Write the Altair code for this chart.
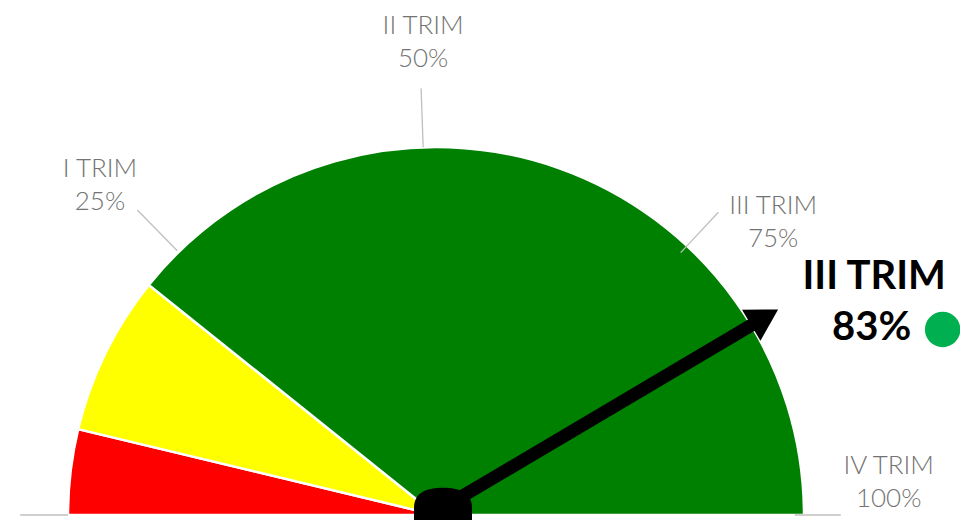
import altair as alt
import numpy as np
import pandas as pd

# ---------------- data ----------------
segment_names = ["Rosso", "Giallo", "Verde"]
segment_values = [7.5, 14.0, 78.5]
segment_colors = ["#FF0000", "#FFFF00", "#008000"]

tick_pcts = [0, 25, 50, 75, 100]
label_titles = ["I TRIM", "II TRIM", "III TRIM", "IV TRIM"]
label_pcts = [25, 50, 75, 100]

needle_label = "III TRIM"
needle_value = 83
status_color = "#00B050"

# ---------------- layout ----------------
W, H = 952, 512
R_PX = 368.0            # gauge radius in pixels
CX, CY = 428.0, 507.0   # gauge centre in chart pixels
LABEL_R = 1.27
LINE_H = 33
# per-label nudges (unit radii) applied to the radial label position
label_nudge = [(-0.015, 0.0), (-0.035, 0.017), (0.018, -0.100), (-0.040, 0.092)]
# leader line angle nudges (degrees)
leader_nudge = [0.0, -0.6, 2.0, 2.0, 0.0]
PIVOT = (0.019, 0.02)
NEEDLE_LEN = 1.058
HEAD_SIZE = 1300
HUB_SIZE = 3364
HUB_Y = -0.005
CALLOUT = [(1.1907, 0.6462), (1.1837, 0.5072)]
DOT = (1.3767, 0.5042)

xscale = alt.Scale(domain=[-CX / R_PX, (W - CX) / R_PX], nice=False, zero=False)
yscale = alt.Scale(domain=[-(H - CY) / R_PX, CY / R_PX], nice=False, zero=False)


def X(f):
    return alt.X(f, type="quantitative", scale=xscale, axis=None)


def Y(f):
    return alt.Y(f, type="quantitative", scale=yscale, axis=None)


def ang(p, nudge_deg=0.0):
    return np.pi * (1 - p / 100.0) + np.radians(nudge_deg)


# ---------------- gauge arcs ----------------
seg_df = pd.DataFrame({
    "name": segment_names,
    "value": segment_values,
    "color": segment_colors,
    "ord": list(range(len(segment_names))),
})
arcs = alt.Chart(seg_df).mark_arc(radius=R_PX, stroke="white", strokeWidth=2.5).encode(
    theta=alt.Theta("value:Q", stack=True,
                    scale=alt.Scale(domain=[0, 100], range=[-np.pi / 2, np.pi / 2])),
    color=alt.Color("color:N", scale=None),
    order=alt.Order("ord:Q"),
    x=alt.XDatum(0, type="quantitative", scale=xscale, axis=None),
    y=alt.YDatum(0, type="quantitative", scale=yscale, axis=None),
)

# ---------------- leader lines ----------------
r_in = [1.0, 1.005, 1.0, 0.975, 0.975]
r_out = [1.13, 1.16, 1.16, 1.125, 1.10]
lead_df = pd.DataFrame({
    "pct": tick_pcts,
    "x": [ri * np.cos(ang(p, n)) for p, n, ri in zip(tick_pcts, leader_nudge, r_in)],
    "y": [ri * np.sin(ang(p, n)) for p, n, ri in zip(tick_pcts, leader_nudge, r_in)],
    "x2": [ro * np.cos(ang(p, n)) for p, n, ro in zip(tick_pcts, leader_nudge, r_out)],
    "y2": [ro * np.sin(ang(p, n)) for p, n, ro in zip(tick_pcts, leader_nudge, r_out)],
})
leaders = alt.Chart(lead_df).mark_rule(color="#BFBFBF", strokeWidth=1.3).encode(
    x=X("x"), y=Y("y"), x2="x2", y2="y2"
)

# ---------------- tick labels ----------------
shift = (LINE_H / 2) / R_PX * 0.92
lab_df = pd.DataFrame({
    "text": [f"{t}\n{p}%" for t, p in zip(label_titles, label_pcts)],
    "x": [LABEL_R * np.cos(ang(p)) + n[0] for p, n in zip(label_pcts, label_nudge)],
    "y": [LABEL_R * np.sin(ang(p)) + n[1] + shift for p, n in zip(label_pcts, label_nudge)],
})
labels = alt.Chart(lab_df).mark_text(
    lineBreak="\n", lineHeight=LINE_H, fontSize=26, font="Lato", fontWeight=300,
    color="#737373", align="center", baseline="middle"
).encode(x=X("x"), y=Y("y"), text="text:N")

# ---------------- needle ----------------
a = ang(needle_value)
ux, uy = np.cos(a), np.sin(a)
head_h = np.sqrt(3) / 2 * np.sqrt(HEAD_SIZE) / 2 / R_PX
needle_df = pd.DataFrame({
    "x": [PIVOT[0]], "y": [PIVOT[1]],
    "x2": [PIVOT[0] + (NEEDLE_LEN - 2 * head_h + 0.01) * ux],
    "y2": [PIVOT[1] + (NEEDLE_LEN - 2 * head_h + 0.01) * uy],
})
needle = alt.Chart(needle_df).mark_rule(color="black", strokeWidth=13, strokeCap="butt").encode(
    x=X("x"), y=Y("y"), x2="x2", y2="y2"
)
head_df = pd.DataFrame({
    "x": [PIVOT[0] + (NEEDLE_LEN - head_h) * ux],
    "y": [PIVOT[1] + (NEEDLE_LEN - head_h) * uy],
})
head = alt.Chart(head_df).mark_point(
    shape="triangle-up", size=HEAD_SIZE, filled=True, color="black", opacity=1,
    angle=float(90 - np.degrees(a)), strokeWidth=0
).encode(x=X("x"), y=Y("y"))

hub_df = pd.DataFrame({"x": [PIVOT[0]], "y": [HUB_Y]})
hub = alt.Chart(hub_df).mark_point(
    shape="M -1 1 L -1 -0.3 C -1 -0.85 -0.55 -1 0 -1 C 0.55 -1 1 -0.85 1 -0.3 L 1 1 Z",
    size=HUB_SIZE, filled=True, color="black", opacity=1, strokeWidth=0
).encode(x=X("x"), y=Y("y"))

# ---------------- callout ----------------
call_df = pd.DataFrame({
    "text": [needle_label, f"{needle_value}%"],
    "x": [c[0] for c in CALLOUT],
    "y": [c[1] for c in CALLOUT],
})
callout = alt.Chart(call_df).mark_text(
    fontSize=40, fontWeight="bold", font="Lato", color="black",
    align="center", baseline="middle"
).encode(x=X("x"), y=Y("y"), text="text:N")

dot_df = pd.DataFrame({"x": [DOT[0]], "y": [DOT[1]]})
dot = alt.Chart(dot_df).mark_point(
    shape="circle", size=1257, filled=True, color=status_color, opacity=1, strokeWidth=0
).encode(x=X("x"), y=Y("y"))

chart = alt.layer(arcs, leaders, labels, needle, head, hub, callout, dot).properties(
    width=W, height=H, padding=0, autosize="none"
).configure_view(stroke=None)

chart.save("out.html", embed_options={"renderer": "svg", "actions": False})
